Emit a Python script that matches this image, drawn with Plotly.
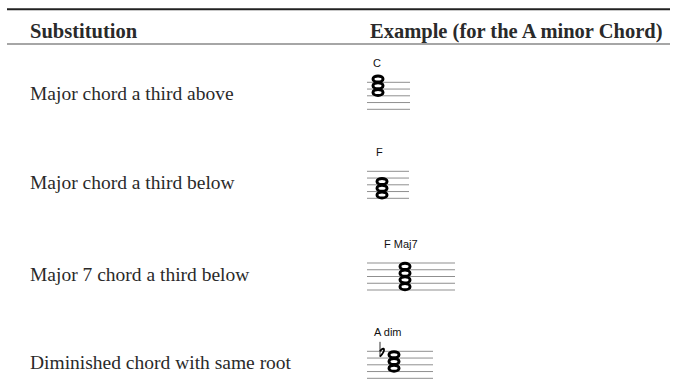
import plotly.graph_objects as go

# ---- data ----
header = ["Substitution", "Example (for the A minor Chord)"]
substitutions = [
    "Major chord a third above",
    "Major chord a third below",
    "Major 7 chord a third below",
    "Diminished chord with same root",
]
chord_names = ["C", "F", "F Maj7", "A dim"]
chord_notes = [
    ["C5", "E5", "G5"],
    ["F4", "A4", "C5"],
    ["F4", "A4", "C5", "E5"],
    ["A4", "C5", "Eb5"],
]

# ---- layout constants (pixels) ----
W, H = 674, 389
staff_bottom = [109.3, 198.3, 290.0, 378.3]
text_offset = 15.5  # text centre above staff bottom line
staff_span = [(367, 410), (367, 409), (367, 455), (367, 433)]
note_x = [378, 382, 405, 394]
label_x = [376.5, 379, 401, 388]
half_space = 3.375  # px per staff step
Y_LO, Y_HI = -3, 17
X_LO, X_HI = 355, 475

LETTERS = "CDEFGAB"


def step_of(note):
    letter = note[0]
    octave = int(note[-1])
    idx = LETTERS.index(letter) + 7 * octave
    return idx - (LETTERS.index("E") + 7 * 4)  # bottom line E4 = 0


def py(p):
    return min(1.0, max(0.0, 1 - p / H))


def px(p):
    return p / W


fig = go.Figure()
layout = dict(
    width=W, height=H, margin=dict(l=0, r=0, t=0, b=0),
    paper_bgcolor="white", plot_bgcolor="white", showlegend=False,
)
shapes = []
annotations = []

for i, notes in enumerate(chord_notes):
    n = i + 1
    xa = "x" if n == 1 else f"x{n}"
    ya = "y" if n == 1 else f"y{n}"
    bottom_px = staff_bottom[i]
    dom_top = bottom_px - Y_HI * half_space
    dom_bot = bottom_px - Y_LO * half_space
    layout[f"xaxis{'' if n == 1 else n}"] = dict(
        domain=[px(X_LO), px(X_HI)], range=[X_LO, X_HI], visible=False,
        anchor=ya, fixedrange=True)
    layout[f"yaxis{'' if n == 1 else n}"] = dict(
        domain=[py(dom_bot), py(dom_top)], range=[Y_LO, Y_HI], visible=False,
        anchor=xa, fixedrange=True)

    # staff lines
    xs, ys = [], []
    for s in range(0, 9, 2):
        xs += [staff_span[i][0], staff_span[i][1], None]
        ys += [s, s, None]
    fig.add_trace(go.Scatter(x=xs, y=ys, mode="lines", xaxis=xa, yaxis=ya,
                             line=dict(color="#8f8f8f", width=1),
                             hoverinfo="skip"))

    # note heads
    for note in notes:
        s = step_of(note)
        cx = note_x[i]
        shapes.append(dict(type="circle", xref=xa, yref=ya,
                           x0=cx - 5.0, x1=cx + 5.0, y0=s - 0.9, y1=s + 0.9,
                           line=dict(color="black", width=3),
                           fillcolor="rgba(0,0,0,0)"))
        if "b" in note[1:]:
            fx = cx - 14
            # stem of the flat
            shapes.append(dict(type="path", xref=xa, yref=ya,
                               path=f"M {fx},{s + 3.8} L {fx},{s - 0.6}",
                               line=dict(color="#333", width=1)))
            # bowl of the flat
            shapes.append(dict(type="path", xref=xa, yref=ya,
                               path=(f"M {fx},{s + 1.0} C {fx + 3.5},{s + 2.6} "
                                     f"{fx + 7},{s + 1.6} {fx},{s - 0.6}"),
                               line=dict(color="black", width=1.8)))

    # chord label
    annotations.append(dict(xref=xa, yref=ya, x=label_x[i], y=13.6,
                            text=chord_names[i], showarrow=False,
                            font=dict(family="Liberation Sans", size=11,
                                      color="#111")))

    # substitution text
    annotations.append(dict(xref="paper", yref="paper", x=px(28),
                            y=py(bottom_px - text_offset), xanchor="left",
                            yanchor="middle", text=substitutions[i],
                            showarrow=False,
                            font=dict(family="Liberation Serif", size=19.5,
                                      color="#2a2a2a")))

# header
for txt, x in zip(header, [28, 368]):
    annotations.append(dict(xref="paper", yref="paper", x=px(x), y=py(31),
                            xanchor="left", yanchor="middle",
                            text=f"<b>{txt}</b>", showarrow=False,
                            font=dict(family="Liberation Serif", size=20.5,
                                      color="#2a2a2a")))

# rules
shapes.append(dict(type="line", xref="paper", yref="paper", x0=px(7),
                   x1=px(670), y0=py(9.3), y1=py(9.3),
                   line=dict(color="#222", width=2)))
shapes.append(dict(type="line", xref="paper", yref="paper", x0=px(7),
                   x1=px(670), y0=py(44), y1=py(44),
                   line=dict(color="#888", width=1.5)))

layout["shapes"] = shapes
layout["annotations"] = annotations
fig.update_layout(**layout)
fig.write_html("out.html", config={"displayModeBar": False},
               post_script="document.body.style.margin='0';")
